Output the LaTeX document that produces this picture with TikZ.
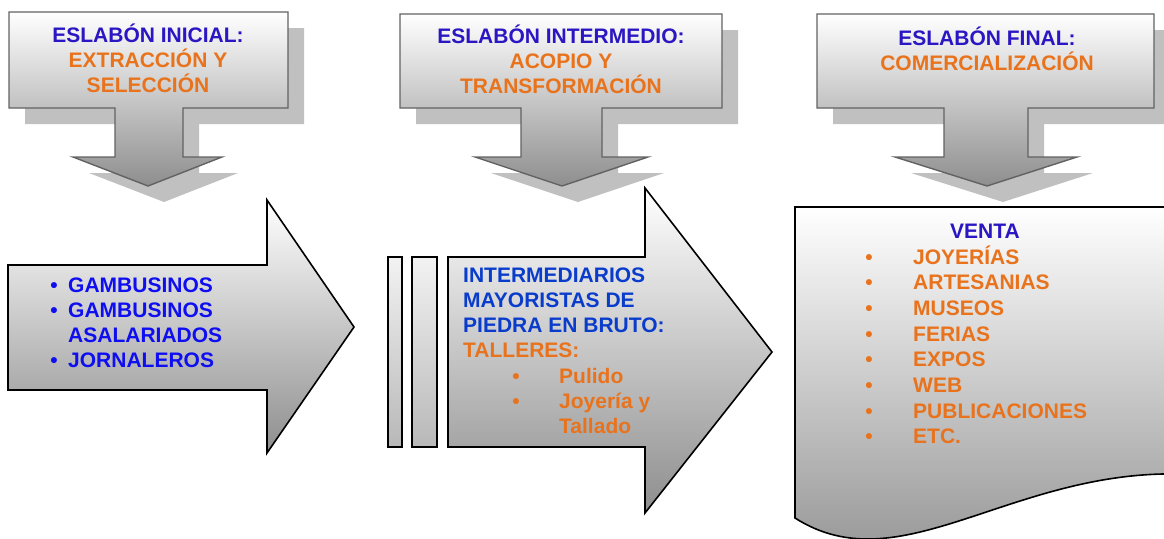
\documentclass[tikz,border=0pt]{standalone}
\usepackage{fontspec}
\setmainfont{Liberation Sans}

\definecolor{azul}{HTML}{2A16C2}
\definecolor{azulvivo}{HTML}{0E0EF0}
\definecolor{azulint}{HTML}{0A3CCC}
\definecolor{naranja}{HTML}{E8731C}
\definecolor{gris}{HTML}{C0C0C0}
\definecolor{borde}{HTML}{626262}
\definecolor{medio}{HTML}{DCDCDC}
\definecolor{fondo}{HTML}{8E8E8E}
\definecolor{tira}{HTML}{B8B8B8}

\tikzset{
  txt/.style={font=\fontsize{21}{25}\selectfont\bfseries, inner sep=0pt, anchor=base},
  izq/.style={txt, anchor=base west},
  flecha/.style={draw=black, line width=1.6pt, line join=miter, top color=white, bottom color=fondo},
  tiras/.style={flecha, top color=white!95!black, bottom color=tira},
  eslabon/.style={draw=borde, line width=1.4pt, line join=miter, top color=white, middle color=medio, bottom color=fondo},
  sombreado/.style={fill=gris},
}

\begin{document}
\begin{tikzpicture}[x=1pt,y=-1pt]
        \clip (0,0) rectangle (1164,538);

        % Eslabones (callouts)
        \foreach \L/\T/\R/\sl/\sr/\hl/\hr/\tx in {9/12/288/115/183/73/222/148, 400/14/722/521/602/475/648/562, 817/14/1154/944/1028/895/1077/987}
        {
        \fill[sombreado, shift={(16,16)}] (\L,\T) -- (\R,\T) -- (\R,108) -- (\sr,108) -- (\sr,157) -- (\hr,157) -- (\tx,186) -- (\hl,157) -- (\sl,157) -- (\sl,108) -- (\L,108) -- cycle;
        \draw[eslabon] (\L,\T) -- (\R,\T) -- (\R,108) -- (\sr,108) -- (\sr,157) -- (\hr,157) -- (\tx,186) -- (\hl,157) -- (\sl,157) -- (\sl,108) -- (\L,108) -- cycle;
        }
        \node[txt, azul] (ini1) at (148,42) {ESLABÓN INICIAL:};
        \node[txt, naranja] (ini2) at (148,67) {EXTRACCIÓN Y};
        \node[txt, naranja] (ini3) at (148,92) {SELECCIÓN};
        \node[txt, azul] (int1) at (561,43) {ESLABÓN INTERMEDIO:};
        \node[txt, naranja] (int2) at (561,68) {ACOPIO Y};
        \node[txt, naranja] (int3) at (561,93) {TRANSFORMACIÓN};
        \node[txt, azul] (fin1) at (987,45) {ESLABÓN FINAL:};
        \node[txt, naranja] (fin2) at (987,70) {COMERCIALIZACIÓN};

        % Flecha inicial
        \draw[flecha] (8,265) -- (267,265) -- (267,200) -- (354,327) -- (267,453) -- (267,390) -- (8,390) -- cycle;
        \node[txt, azulvivo] (b1) at (54,292) {•};
        \node[txt, azulvivo] (b2) at (54,317) {•};
        \node[txt, azulvivo] (b3) at (54,367) {•};
        \node[izq, azulvivo] (gam1) at (68,292) {GAMBUSINOS};
        \node[izq, azulvivo] (gam2) at (68,317) {GAMBUSINOS};
        \node[izq, azulvivo] (gam3) at (68,342) {ASALARIADOS};
        \node[izq, azulvivo] (jor) at (68,367) {JORNALEROS};

        % Flecha intermedia
        \draw[tiras] (388,257) rectangle (402,447);
        \draw[tiras] (412,257) rectangle (437,447);
        \draw[flecha] (448,257) -- (645,257) -- (645,188) -- (772,352) -- (645,513) -- (645,447) -- (448,447) -- cycle;
        \foreach \t [count=\i from 0] in {INTERMEDIARIOS, MAYORISTAS DE, PIEDRA EN BRUTO:}
        \node[izq, azulint] (med\i) at (463, 282+25*\i) {\t};
        \node[izq, naranja] (tall) at (463,357) {TALLERES:};
        \node[txt, naranja] (tb1) at (516,383) {•};
        \node[txt, naranja] (tb2) at (516,408) {•};
        \node[izq, naranja] (pul) at (559,383) {Pulido};
        \node[izq, naranja] (joy) at (559,408) {Joyería y};
        \node[izq, naranja] (tal) at (559,433) {Tallado};

        % Venta (documento)
        \draw[flecha] (795,207) -- (1180,207) -- (1180,474) .. controls (1010,470) and (900,585) .. (795,518) -- cycle;
        \node[txt, azul] (venta) at (985,238) {VENTA};
        \foreach \t [count=\i from 0] in {JOYERÍAS, ARTESANIAS, MUSEOS, FERIAS, EXPOS, WEB, PUBLICACIONES, ETC.}
        {
        \node[txt, naranja] (vb\i) at (869, 264+25.7*\i) {•};
        \node[izq, naranja] (vt\i) at (913, 264+25.7*\i) {\t};
        }
\end{tikzpicture}
\end{document}
